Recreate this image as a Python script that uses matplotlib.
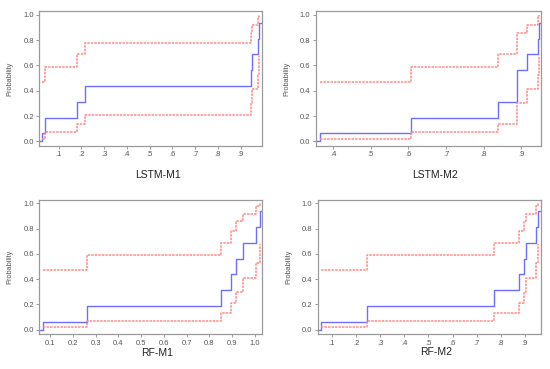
import numpy as np
import matplotlib
matplotlib.use("Agg")
import matplotlib.pyplot as plt
from matplotlib.ticker import FuncFormatter

plt.rcParams['font.family'] = ['Liberation Sans', 'DejaVu Sans']

# empirical CDF levels (plotting position (i-0.5)/n, n = 8) and band levels
ecdf = [0.0625, 0.1875, 0.3125, 0.4375, 0.5625, 0.6875, 0.8125, 0.9375]
upper = [0.47, 0.59, 0.69, 0.78, 0.86, 0.92, 0.98, 1.0]
lower = [0.02, 0.07, 0.135, 0.21, 0.30, 0.41, 0.525, 0.675]

names = ['LSTM-M1', 'LSTM-M2', 'RF-M1', 'RF-M2']
# sorted observations for each model
x_lstm1 = [0.027, 0.041, 0.182, 0.214, 0.946, 0.950, 0.977, 0.981]
x_lstm2 = [0.366, 0.607, 0.837, 0.888, 0.888, 0.916, 0.945, 0.946]
x_rf1 = [0.068, 0.264, 0.851, 0.895, 0.916, 0.945, 1.005, 1.020]
x_rf2 = [0.054, 0.246, 0.770, 0.877, 0.896, 0.903, 0.947, 0.954]
xlims = [(0.015, 0.995), (0.354, 0.951), (0.053, 1.032), (0.042, 0.965)]
xticks = [np.arange(0.1, 0.95, 0.1), np.arange(0.4, 0.95, 0.1),
          np.arange(0.1, 1.05, 0.1), np.arange(0.1, 0.95, 0.1)]
yticks = [0.0, 0.2, 0.4, 0.6, 0.8, 1.0]

# axes rectangles (figure fraction)
rects = [[0.0715, 0.605, 0.4055, 0.365],
         [0.574, 0.605, 0.409, 0.365],
         [0.0715, 0.095, 0.4055, 0.364],
         [0.578, 0.095, 0.405, 0.364]]
xlab_y = [-0.18, -0.18, -0.105, -0.10]
ylab_x = [-0.117, -0.111, -0.117, -0.115]

blue = '#6f6fff'
red = '#ff8a8a'
frame = '#9a9a9a'
txt = '#555555'

fig = plt.figure(figsize=(5.5, 3.69), dpi=100)
for i, xs in enumerate([x_lstm1, x_lstm2, x_rf1, x_rf2]):
    ax = fig.add_axes(rects[i])
    lo, hi = xlims[i]
    ax.step(np.r_[lo, xs, hi], np.r_[0, ecdf, ecdf[-1]], where='post',
            color=blue, lw=1.0)
    ax.step(xs, upper, where='post', color=red, lw=1.1, ls=(0, (1.6, 0.7)))
    ax.step(xs, lower, where='post', color=red, lw=1.1, ls=(0, (1.6, 0.7)))
    ax.set_xlim(lo, hi)
    ax.set_ylim(-0.035, 1.03)
    ax.set_yticks(yticks)
    ax.set_xticks(xticks[i])
    ax.yaxis.set_major_formatter(FuncFormatter(lambda v, p: f"{v:.1f}"))
    if i == 2:
        ax.xaxis.set_major_formatter(FuncFormatter(lambda v, p: f"{v:.1f}"))
    else:
        ax.xaxis.set_major_formatter(
            FuncFormatter(lambda v, p: f"{v:.1f}".lstrip('0')))
    for s in ax.spines.values():
        s.set_color(frame)
        s.set_linewidth(0.9)
    ax.tick_params(direction='out', length=2.5, width=0.7, color=frame,
                   labelsize=5.5, labelcolor=txt, pad=1.5)
    ax.set_ylabel('Probability', fontsize=5.3, color=txt)
    ax.yaxis.set_label_coords(ylab_x[i], 0.5)
    ax.set_xlabel(names[i], fontsize=7.5, color='#222222')
    ax.xaxis.set_label_coords(0.53, xlab_y[i])

fig.savefig('out.png', dpi=100)
